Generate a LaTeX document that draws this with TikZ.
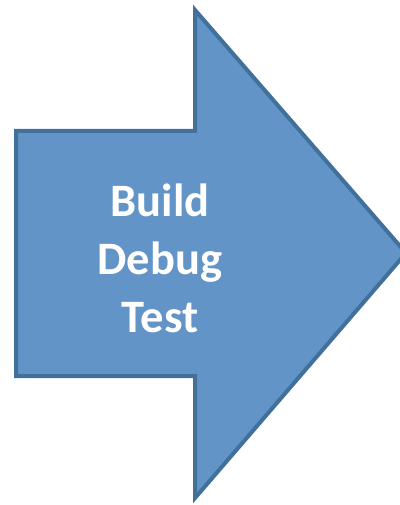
\documentclass[tikz,border=0pt]{standalone}
\usepackage{fontspec}
\setmainfont{Carlito}
\definecolor{arrowfill}{RGB}{98,148,199}
\definecolor{arrowline}{RGB}{65,112,155}

\begin{document}
\begin{tikzpicture} [x = 1pt, y = -1pt, bigarrow/.style = {fill = arrowfill, draw = arrowline, line width = 4pt, line join = miter}]
\useasboundingbox (0, 0) rectangle (399, 505);
\draw[bigarrow] (16, 131) -- (195, 131) -- (195, 10) -- (406, 253) -- (195, 498) -- (195, 376) -- (16, 376) -- cycle;
\node[text = white, align = center, font = \fontsize{46.5}{58}\selectfont\bfseries] (steps) at (160, 258){Build\\Debug\\Test};
\end{tikzpicture}
\end{document}
